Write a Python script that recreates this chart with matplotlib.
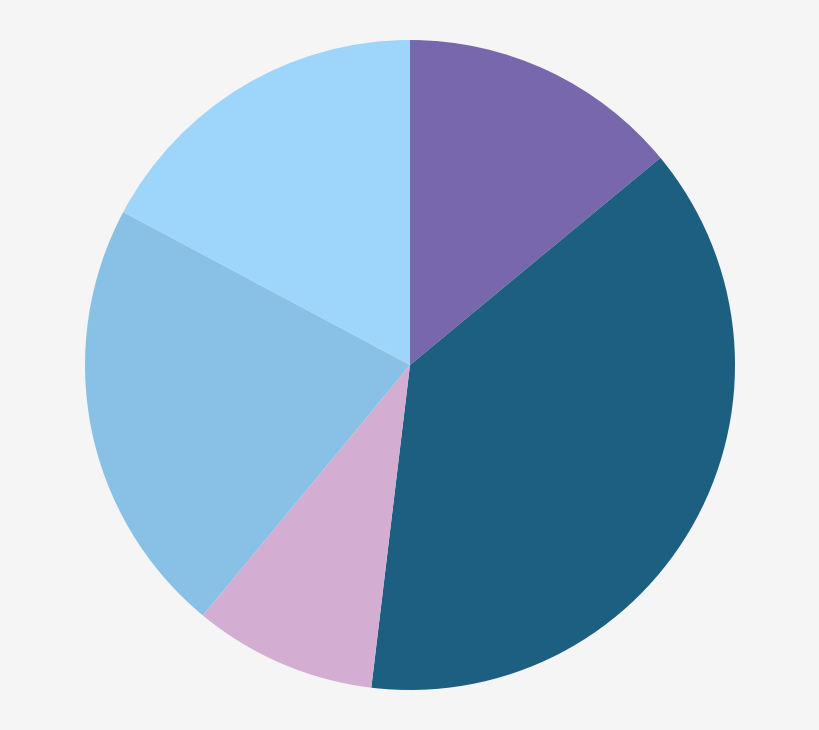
import matplotlib
matplotlib.use("Agg")
from matplotlib import pyplot as plt

# slice shares, clockwise from 12 o'clock
labels = ["A", "B", "C", "D", "E"]
values = [14.0, 37.9, 9.1, 21.8, 17.2]
colors = ["#7967AD", "#1C5F80", "#D4AED2", "#89C1E6", "#9DD5FB"]

fig = plt.figure(figsize=(8.2, 7.3), dpi=100, facecolor="#F5F5F5")
ax = fig.add_axes([85 / 820, 40 / 730, 650 / 820, 650 / 730])
ax.set_facecolor("#F5F5F5")

ax.pie(values, colors=colors, startangle=90, counterclock=False,
       radius=1.0, wedgeprops={"linewidth": 0})
ax.set_xlim(-1, 1)
ax.set_ylim(-1, 1)
ax.set_aspect("equal")
ax.axis("off")

fig.savefig("out.png", dpi=100, facecolor=fig.get_facecolor())
